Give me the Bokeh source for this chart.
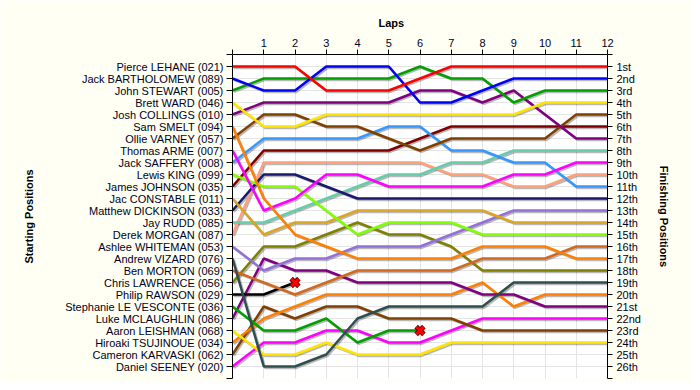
import math
from bokeh.plotting import figure
from bokeh.models import LinearAxis, FixedTicker, Title
from bokeh.embed import file_html
from bokeh.resources import INLINE

# ---------------- data ----------------
drivers = [
    "Pierce LEHANE (021)", "Jack BARTHOLOMEW (089)", "John STEWART (005)",
    "Brett WARD (046)", "Josh COLLINGS (010)", "Sam SMELT (094)",
    "Ollie VARNEY (057)", "Thomas ARME (007)", "Jack SAFFERY (008)",
    "Lewis KING (099)", "James JOHNSON (035)", "Jac CONSTABLE (011)",
    "Matthew DICKINSON (033)", "Jay RUDD (085)", "Derek MORGAN (087)",
    "Ashlee WHITEMAN (053)", "Andrew VIZARD (076)", "Ben MORTON (069)",
    "Chris LAWRENCE (056)", "Philip RAWSON (029)",
    "Stephanie LE VESCONTE (036)", "Luke MCLAUGHLIN (086)",
    "Aaron LEISHMAN (068)", "Hiroaki TSUJINOUE (034)",
    "Cameron KARVASKI (062)", "Daniel SEENEY (020)",
]

finish_labels = ["1st", "2nd", "3rd"] + [f"{i}th" for i in range(4, 21)] + \
    ["21st", "22nd", "23rd", "24th", "25th", "26th"]

laps = list(range(13))
lap_labels = [""] + [str(i) for i in range(1, 13)]

colors = [
    "#FF0000", "#0000FF", "#00A000", "#FFE400", "#800080", "#FF8000",
    "#804000", "#FF00FF", "#3399FF", "#80FF00", "#800000", "#DAA520",
    "#191970", "#66CDAA", "#FFA07A", "#9370DB", "#2F4F4F", "#D2691E",
    "#808000", "#000000", "#00A000", "#800080", "#FFE400", "#FF8000",
    "#804000", "#FF00FF",
]

# position at each lap (lap 0 = grid); shorter lists = retired
pierce    = [1, 1, 1, 3, 3, 3, 2, 1, 1, 1, 1, 1, 1]
jack_b    = [2, 3, 3, 1, 1, 1, 4, 4, 3, 2, 2, 2, 2]
john      = [3, 2, 2, 2, 2, 2, 1, 2, 2, 4, 3, 3, 3]
brett     = [4, 6, 6, 5, 5, 5, 5, 5, 5, 5, 4, 4, 4]
josh      = [5, 4, 4, 4, 4, 4, 3, 3, 4, 3, 5, 7, 7]
sam       = [6, 12, 15, 16, 17, 17, 17, 17, 16, 16, 16, 17, 17]
ollie     = [7, 5, 5, 6, 6, 7, 8, 7, 7, 7, 7, 5, 5]
thomas    = [8, 13, 12, 10, 10, 11, 11, 11, 11, 10, 10, 9, 9]
jack_s    = [9, 7, 7, 7, 7, 6, 6, 8, 8, 9, 9, 11, 11]
lewis     = [10, 11, 11, 13, 15, 14, 14, 14, 15, 15, 15, 15, 15]
james     = [11, 8, 8, 8, 8, 8, 7, 6, 6, 6, 6, 6, 6]
jac       = [12, 15, 14, 14, 13, 13, 13, 13, 13, 14, 14, 14, 14]
matthew   = [13, 10, 10, 11, 12, 12, 12, 12, 12, 12, 12, 12, 12]
jay       = [14, 14, 13, 12, 11, 10, 10, 9, 9, 8, 8, 8, 8]
derek     = [15, 9, 9, 9, 9, 9, 9, 10, 10, 11, 11, 10, 10]
ashlee    = [16, 18, 17, 17, 16, 16, 16, 15, 14, 13, 13, 13, 13]
andrew    = [17, 26, 26, 25, 22, 21, 21, 21, 21, 19, 19, 19, 19]
ben       = [18, 19, 20, 19, 18, 18, 18, 18, 17, 17, 17, 16, 16]
chris     = [19, 16, 16, 15, 14, 15, 15, 16, 18, 18, 18, 18, 18]
philip    = [20, 20, 19]
stephanie = [21, 23, 23, 22, 24, 23, 23]
luke      = [22, 17, 18, 18, 19, 19, 19, 19, 20, 20, 21, 21, 21]
aaron     = [23, 25, 25, 24, 25, 25, 25, 24, 24, 24, 24, 24, 24]
hiroaki   = [24, 22, 21, 20, 20, 20, 20, 20, 19, 21, 20, 20, 20]
cameron   = [25, 21, 22, 21, 21, 22, 22, 22, 23, 23, 23, 23, 23]
daniel    = [26, 24, 24, 23, 23, 24, 24, 23, 22, 22, 22, 22, 22]

positions = [pierce, jack_b, john, brett, josh, sam, ollie, thomas, jack_s,
             lewis, james, jac, matthew, jay, derek, ashlee, andrew, ben,
             chris, philip, stephanie, luke, aaron, hiroaki, cameron, daniel]

n_drivers = len(drivers)

# ---------------- figure ----------------
FONT = "Liberation Sans"
p = figure(width=692, height=382, x_range=(0, 12), y_range=(n_drivers + 1, 0),
           x_axis_location="above", output_backend="svg", toolbar_location=None,
           min_border_left=232, min_border_right=85, min_border_top=54,
           min_border_bottom=4, background_fill_color="#FFFFFF",
           border_fill_color="#FFFFF4", outline_line_color=None)

# title "Laps" above the top axis
p.title = Title(text="Laps", align="left", offset=146, standoff=14,
                text_font=FONT, text_font_size="11px", text_font_style="bold",
                text_color="#000000")

# grids
p.xgrid.ticker = FixedTicker(ticks=laps)
p.ygrid.ticker = FixedTicker(ticks=list(range(1, n_drivers + 1)))
p.grid.grid_line_color = "#E4E4E4"
p.grid.grid_line_width = 1

# top (laps) axis
xa = p.xaxis[0]
xa.ticker = FixedTicker(ticks=laps)
xa.major_label_overrides = {i: lab for i, lab in zip(laps, lap_labels)}
xa.major_tick_out = 5
xa.major_tick_in = 0
xa.minor_tick_out = 0
xa.minor_tick_in = 0
xa.major_label_standoff = 3
xa.major_label_text_font = FONT
xa.major_label_text_font_size = "11px"
xa.major_label_text_color = "#000022"
xa.axis_line_color = "black"

ticks_y = list(range(0, n_drivers + 2))

# left (starting positions) axis
ya = p.yaxis[0]
ya.ticker = FixedTicker(ticks=ticks_y)
ov_left = {t: "" for t in ticks_y}
ov_left.update({i + 1: d for i, d in enumerate(drivers)})
ya.major_label_overrides = ov_left
ya.major_tick_out = 6
ya.major_tick_in = 0
ya.minor_tick_out = 0
ya.minor_tick_in = 0
ya.major_label_standoff = 3
ya.major_label_text_font = FONT
ya.major_label_text_font_size = "11px"
ya.major_label_text_color = "#000022"
ya.axis_label = "Starting Positions"
ya.axis_label_standoff = 27
ya.axis_label_text_font = FONT
ya.axis_label_text_font_size = "11px"
ya.axis_label_text_font_style = "bold"
ya.axis_label_text_color = "#000000"

# right (finishing positions) axis
ov_right = {t: "" for t in ticks_y}
ov_right.update({i + 1: f for i, f in enumerate(finish_labels)})
ra = LinearAxis(ticker=FixedTicker(ticks=ticks_y),
                major_label_overrides=ov_right,
                major_tick_out=5, major_tick_in=0,
                minor_tick_out=0, minor_tick_in=0,
                major_label_standoff=4,
                major_label_text_font=FONT,
                major_label_text_font_size="11px",
                major_label_text_color="#000022",
                axis_label="Finishing Positions",
                axis_label_standoff=14,
                axis_label_text_font=FONT,
                axis_label_text_font_size="11px",
                axis_label_text_font_style="bold",
                axis_label_text_color="#000000")
p.add_layout(ra, "right")

# shadows
sdx, sdy = 0.045, 0.12
for pos in positions:
    xs = laps[:len(pos)]
    p.line([x + sdx for x in xs], [y + sdy for y in pos],
           line_color="#000000", line_alpha=0.28, line_width=2.5)

# lines (drawn back to front so leaders are on top)
for pos, col in reversed(list(zip(positions, colors))):
    xs = laps[:len(pos)]
    p.line(xs, pos, line_color=col, line_width=2.5)

# retirement markers
ret_x = [len(pos) - 1 for pos in positions if len(pos) < len(laps)]
ret_y = [pos[-1] for pos in positions if len(pos) < len(laps)]
p.scatter(ret_x, ret_y, marker="x", size=11, line_width=5, line_color="#7A0000")
p.scatter(ret_x, ret_y, marker="x", size=10, line_width=3, line_color="#FF0000")

open("out.html", "w").write(file_html(p, INLINE))
